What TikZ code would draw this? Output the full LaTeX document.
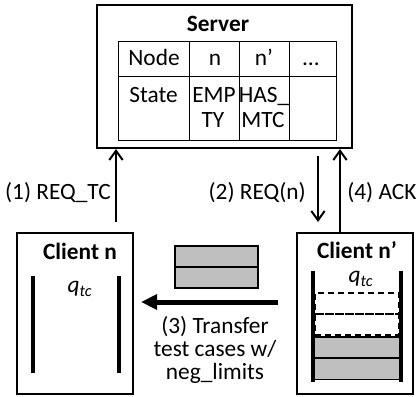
\documentclass[tikz,border=0pt]{standalone}
\usepackage{fontspec}
\setmainfont{Carlito}
\usetikzlibrary{arrows.meta}
\begin{document}
\begin{tikzpicture}[x=0.75pt,y=-0.75pt,
  every node/.style={font=\fontsize{17.5}{19}\selectfont, inner sep=0pt},
  title/.style={font=\fontsize{17.5}{19}\selectfont\bfseries},
  box/.style={draw, line width=1.5pt, inner sep=0pt},
  cell/.style={draw, line width=0.75pt, inner sep=0pt},
  wall/.style={line width=3pt},
  slot/.style={draw, line width=1.2pt, fill=black!25, minimum height=15.75pt},
  freeslot/.style={draw, line width=1.2pt, dash pattern=on 4.5pt off 3pt, minimum height=15.75pt},
  msg/.style={line width=1.5pt, -{Straight Barb[length=7pt,width=10pt]}},
  bigmsg/.style={line width=3.75pt, -{Triangle[length=12pt,width=11pt]}},
  lbl/.style={font=\fontsize{17.5}{19}\selectfont},
]
\useasboundingbox (0,0) rectangle (417,396);

% ---------- server ----------
\node[box, minimum width=191.25pt, minimum height=107.25pt] (srv) at (224.5,76.5) {};
\node[title] (srvtitle) at (218,24) {Server};

% state table
\node[cell, minimum width=53.25pt, minimum height=26.25pt] (c11) at (153.5,58.5) {};
\node[cell, minimum width=37.5pt,  minimum height=26.25pt] (c12) at (214,58.5) {};
\node[cell, minimum width=37.5pt,  minimum height=26.25pt] (c13) at (264,58.5) {};
\node[cell, minimum width=35.25pt, minimum height=26.25pt] (c14) at (312.5,58.5) {};
\node[cell, minimum width=53.25pt, minimum height=48pt] (c21) at (153.5,108) {};
\node[cell, minimum width=37.5pt,  minimum height=48pt] (c22) at (214,108) {};
\node[cell, minimum width=37.5pt,  minimum height=48pt] (c23) at (264,108) {};
\node[cell, minimum width=35.25pt, minimum height=48pt] (c24) at (312.5,108) {};
\node[anchor=base] (t11) at (154,65) {Node};
\node[anchor=base] (t12) at (215,65) {n};
\node[anchor=base] (t13) at (264,65) {n’};
\node[anchor=base] (t14) at (311,65) {…};
\node[anchor=base] (t21) at (153.5,102) {State};
\node[anchor=base] (t22a) at (214,102) {EMP};
\node[anchor=base] (t22b) at (213,127) {TY};
\node[anchor=base] (t23a) at (264,102) {HAS\_};
\node[anchor=base] (t23b) at (263,127) {MTC};

% ---------- client n ----------
\node[box, minimum width=87pt, minimum height=120.75pt] (cn) at (75,313.5) {};
\node[title] (cntitle) at (80,251) {Client n};
\draw[wall] (33,276) -- (33,373);
\draw[wall] (119,276) -- (119,373);
\node (qn) at (80,289) {\textit{q}\textsubscript{\textit{tc}}};

% ---------- client n' ----------
\node[box, minimum width=87pt, minimum height=120.75pt] (cnp) at (355,313.5) {};
\node[title] (cnptitle) at (357,250) {Client n’};
\node (qnp) at (361,279) {\textit{q}\textsubscript{\textit{tc}}};
\node[freeslot, minimum width=63pt] (f1) at (357,303.5) {};
\node[freeslot, minimum width=63pt] (f2) at (357,324.5) {};
\node[slot, minimum width=65pt] (s1) at (357,347.5) {};
\node[slot, minimum width=65pt] (s2) at (357,369) {};
\draw[wall] (313,271) -- (313,382);
\draw[wall] (401,271) -- (401,382);

% ---------- test cases in transit ----------
\node[slot, minimum width=62.25pt] (m1) at (216.5,256.5) {};
\node[slot, minimum width=62.25pt] (m2) at (216.5,277.5) {};

% ---------- messages ----------
\coordinate (x1) at (116,0);
\coordinate (x2) at (318,0);
\coordinate (x4) at (340,0);
\coordinate (tstart) at (278,302);

\draw[msg, shorten <=7.5pt] (cn.north -| x1) -- (srv.south -| x1);
\draw[msg, shorten <=5.25pt, shorten >=7.5pt] (srv.south -| x2) -- (cnp.north -| x2);
\draw[msg] (cnp.north -| x4) -- (srv.south -| x4);
\draw[bigmsg, shorten >=5.25pt] (tstart) -- (cn.east |- tstart);

\node[lbl, anchor=east] (l1) at (111,193) {(1) REQ\_TC};
\node[lbl, anchor=east] (l2) at (306,193) {(2) REQ(n)};
\node[lbl, anchor=west] (l4) at (347,193) {(4) ACK};
\node[lbl, align=center, font=\fontsize{17.5}{17}\selectfont] (l3) at (215,350)
  {(3) Transfer\\test cases w/\\neg\_limits};
\end{tikzpicture}
\end{document}
